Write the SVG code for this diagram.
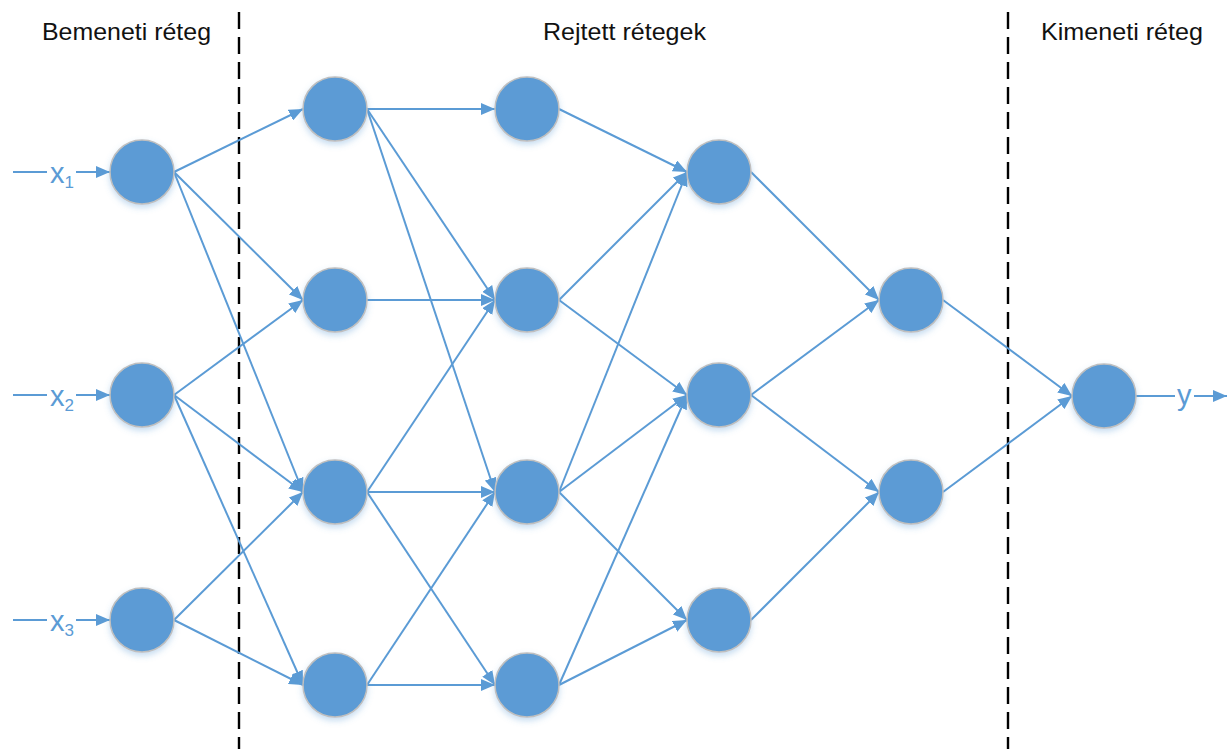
<svg xmlns="http://www.w3.org/2000/svg" width="1227" height="749" viewBox="0 0 1227 749">
  <defs>
    <style>
      .node { fill: #5B9BD5; stroke: #BFBFBF; stroke-width: 1.5; filter: url(#glow); }
      .edge { stroke: #5B9BD5; stroke-width: 2; fill: none; marker-end: url(#arrow); }
      .plain { stroke: #5B9BD5; stroke-width: 2; fill: none; }
      .divider { stroke: #000; stroke-width: 2.4; stroke-dasharray: 17 8; fill: none; }
      .title { font-family: "Liberation Sans", Arial, sans-serif; font-size: 24px; fill: #111; }
      .io { font-family: "Liberation Sans", Arial, sans-serif; font-size: 29px; fill: #5B9BD5; }
      .sub { font-size: 17px; }
    </style>
    <marker id="arrow" viewBox="0 0 14 12" refX="14" refY="6" markerWidth="14" markerHeight="12" markerUnits="userSpaceOnUse" orient="auto">
      <path d="M0,0 L14,6 L0,12 z" fill="#5B9BD5"/>
    </marker>
    <filter id="glow" x="-30%" y="-30%" width="160%" height="170%">
      <feDropShadow dx="0" dy="3" stdDeviation="3" flood-color="#5B9BD5" flood-opacity="0.35"/>
    </filter>
  </defs>
  <rect width="1227" height="749" fill="#fff"/>

  <!-- layer dividers -->
  <g id="dividers">
    <line class="divider" x1="239" y1="12" x2="239" y2="749"/>
    <line class="divider" x1="1008" y1="12" x2="1008" y2="749"/>
  </g>

  <!-- layer titles -->
  <g id="titles">
    <text class="title" x="42" y="40" textLength="169" lengthAdjust="spacingAndGlyphs">Bemeneti réteg</text>
    <text class="title" x="543" y="40" textLength="163" lengthAdjust="spacingAndGlyphs">Rejtett rétegek</text>
    <text class="title" x="1041" y="40" textLength="162" lengthAdjust="spacingAndGlyphs">Kimeneti réteg</text>
  </g>

  <!-- connectors -->
  <g id="connectors">
    <!-- inputs -->
    <line class="plain" x1="13" y1="172" x2="47" y2="172"/>
    <line class="edge" x1="76" y1="172" x2="110" y2="172"/>
    <line class="plain" x1="13" y1="395" x2="47" y2="395"/>
    <line class="edge" x1="76" y1="395" x2="110" y2="395"/>
    <line class="plain" x1="13" y1="620" x2="47" y2="620"/>
    <line class="edge" x1="76" y1="620" x2="110" y2="620"/>

    <!-- input layer to hidden layer 1 -->
    <line class="edge" x1="174" y1="172" x2="303" y2="109"/>
    <line class="edge" x1="174" y1="172" x2="303" y2="300"/>
    <line class="edge" x1="174" y1="172" x2="303" y2="492"/>
    <line class="edge" x1="174" y1="395" x2="303" y2="300"/>
    <line class="edge" x1="174" y1="395" x2="303" y2="492"/>
    <line class="edge" x1="174" y1="395" x2="303" y2="685"/>
    <line class="edge" x1="174" y1="620" x2="303" y2="492"/>
    <line class="edge" x1="174" y1="620" x2="303" y2="685"/>

    <!-- hidden layer 1 to hidden layer 2 -->
    <line class="edge" x1="367" y1="109" x2="495" y2="109"/>
    <line class="edge" x1="367" y1="109" x2="495" y2="300"/>
    <line class="edge" x1="367" y1="109" x2="495" y2="492"/>
    <line class="edge" x1="367" y1="300" x2="495" y2="300"/>
    <line class="edge" x1="367" y1="492" x2="495" y2="300"/>
    <line class="edge" x1="367" y1="492" x2="495" y2="492"/>
    <line class="edge" x1="367" y1="492" x2="495" y2="685"/>
    <line class="edge" x1="367" y1="685" x2="495" y2="492"/>
    <line class="edge" x1="367" y1="685" x2="495" y2="685"/>

    <!-- hidden layer 2 to hidden layer 3 -->
    <line class="edge" x1="559" y1="109" x2="687" y2="172"/>
    <line class="edge" x1="559" y1="300" x2="687" y2="172"/>
    <line class="edge" x1="559" y1="300" x2="687" y2="395"/>
    <line class="edge" x1="559" y1="492" x2="687" y2="172"/>
    <line class="edge" x1="559" y1="492" x2="687" y2="395"/>
    <line class="edge" x1="559" y1="492" x2="687" y2="620"/>
    <line class="edge" x1="559" y1="685" x2="687" y2="395"/>
    <line class="edge" x1="559" y1="685" x2="687" y2="620"/>

    <!-- hidden layer 3 to hidden layer 4 -->
    <line class="edge" x1="751" y1="172" x2="879" y2="300"/>
    <line class="edge" x1="751" y1="395" x2="879" y2="300"/>
    <line class="edge" x1="751" y1="395" x2="879" y2="492"/>
    <line class="edge" x1="751" y1="620" x2="879" y2="492"/>

    <!-- hidden layer 4 to output -->
    <line class="edge" x1="943" y1="300" x2="1072" y2="396"/>
    <line class="edge" x1="943" y1="492" x2="1072" y2="396"/>

    <!-- output -->
    <line class="plain" x1="1136" y1="396" x2="1175" y2="396"/>
    <line class="edge" x1="1194" y1="396" x2="1227" y2="396"/>
  </g>

  <!-- input / output labels -->
  <g id="labels">
    <text class="io" x="50" y="183">x<tspan class="sub" dy="5">1</tspan></text>
    <text class="io" x="50" y="406">x<tspan class="sub" dy="5">2</tspan></text>
    <text class="io" x="50" y="631">x<tspan class="sub" dy="5">3</tspan></text>
    <text class="io" x="1177" y="405">y</text>
  </g>

  <!-- input layer -->
  <g id="in1"><circle class="node" cx="142" cy="172" r="32"/></g>
  <g id="in2"><circle class="node" cx="142" cy="395" r="32"/></g>
  <g id="in3"><circle class="node" cx="142" cy="620" r="32"/></g>

  <!-- hidden layer 1 -->
  <g id="h1a"><circle class="node" cx="335" cy="109" r="32"/></g>
  <g id="h1b"><circle class="node" cx="335" cy="300" r="32"/></g>
  <g id="h1c"><circle class="node" cx="335" cy="492" r="32"/></g>
  <g id="h1d"><circle class="node" cx="335" cy="685" r="32"/></g>

  <!-- hidden layer 2 -->
  <g id="h2a"><circle class="node" cx="527" cy="109" r="32"/></g>
  <g id="h2b"><circle class="node" cx="527" cy="300" r="32"/></g>
  <g id="h2c"><circle class="node" cx="527" cy="492" r="32"/></g>
  <g id="h2d"><circle class="node" cx="527" cy="685" r="32"/></g>

  <!-- hidden layer 3 -->
  <g id="h3a"><circle class="node" cx="719" cy="172" r="32"/></g>
  <g id="h3b"><circle class="node" cx="719" cy="395" r="32"/></g>
  <g id="h3c"><circle class="node" cx="719" cy="620" r="32"/></g>

  <!-- hidden layer 4 -->
  <g id="h4a"><circle class="node" cx="911" cy="300" r="32"/></g>
  <g id="h4b"><circle class="node" cx="911" cy="492" r="32"/></g>

  <!-- output layer -->
  <g id="out"><circle class="node" cx="1104" cy="396" r="32"/></g>
</svg>
